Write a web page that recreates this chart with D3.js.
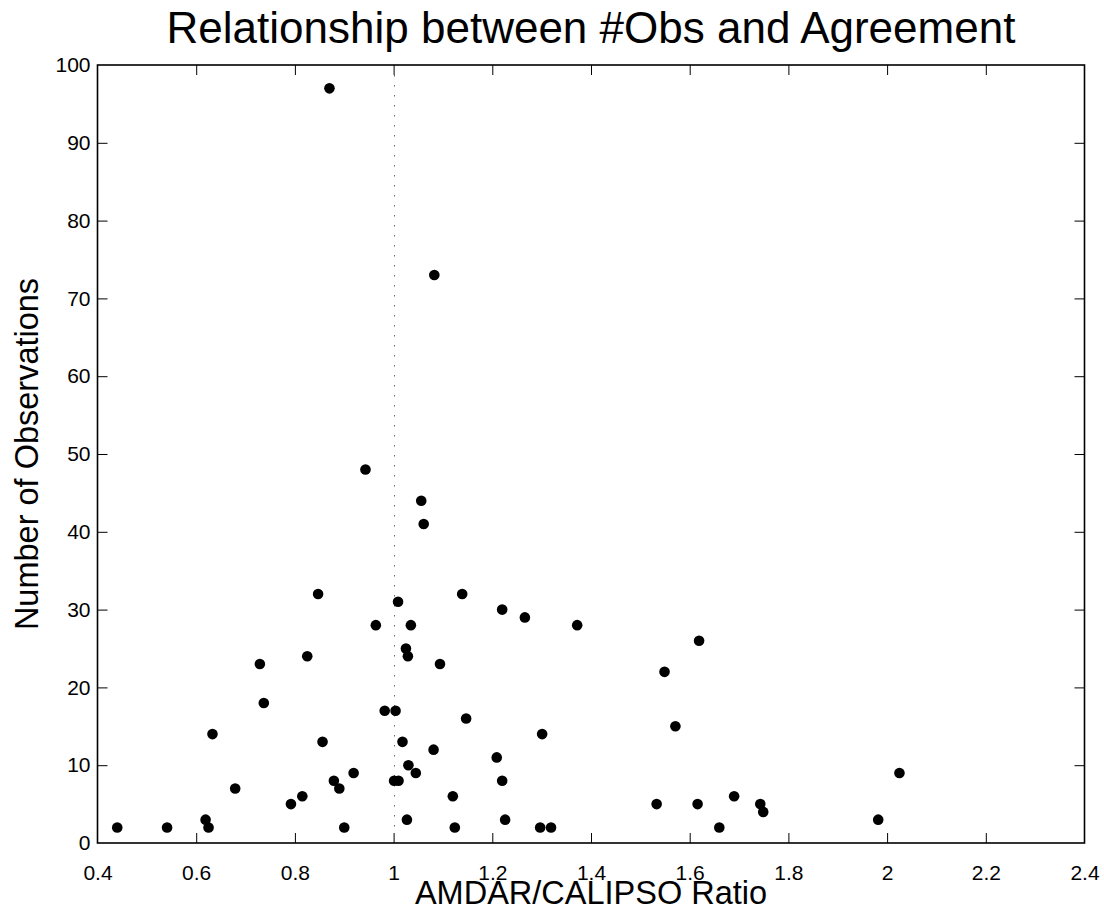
<!DOCTYPE html>
<html>
<head>
<meta charset="utf-8">
<script src="https://cdn.jsdelivr.net/npm/d3@7"></script>
<style>
  html, body { margin: 0; padding: 0; background: #fff; }
  svg { display: block; }
  text { font-family: "Liberation Sans", Arial, Helvetica, sans-serif; fill: #000; }
</style>
</head>
<body>
<svg id="chart" width="1104" height="910"></svg>
<script>
// ---- data ----
const ratio = [
  0.847, 1.009, 1.139, 0.964, 1.035, 1.025, 1.029, 0.825, 0.729, 1.094,
  0.737, 0.982, 1.004, 1.147, 0.633, 0.856, 1.018, 1.081, 1.030, 0.919,
  1.045, 0.879, 1.001, 1.010, 0.679, 0.890, 0.815, 1.120, 0.792, 0.619,
  1.027, 0.440, 0.541, 0.625, 0.900, 1.124, 1.220, 1.266, 1.372, 1.301,
  1.209, 1.220, 1.226, 1.297, 1.319, 1.619, 1.549, 1.571, 2.025, 1.533,
  1.616, 1.690, 1.743, 1.749, 1.660, 1.982, 0.870, 1.0825, 0.943, 1.056,
  1.061
];
const numObs = [
  32, 31, 32, 28, 28, 25, 24, 24, 23, 23,
  18, 17, 17, 16, 14, 13, 13, 12, 10, 9,
  9, 8, 8, 8, 7, 7, 6, 6, 5, 3,
  3, 2, 2, 2, 2, 2, 30, 29, 28, 14,
  11, 8, 3, 2, 2, 26, 22, 15, 9, 5,
  5, 6, 5, 4, 2, 3, 97, 73, 48, 44,
  41
];
const xTicks = [0.4, 0.6, 0.8, 1.0, 1.2, 1.4, 1.6, 1.8, 2.0, 2.2, 2.4];
const yTicks = [0, 10, 20, 30, 40, 50, 60, 70, 80, 90, 100];
const titleText = "Relationship between #Obs and Agreement";
const xLabel = "AMDAR/CALIPSO Ratio";
const yLabel = "Number of Observations";
const refLine = 1;

(function draw() {
  const L = 97.5, R = 1084.5, T = 65, B = 843;
  const svg = d3.select("#chart");
  const x = d3.scaleLinear().domain([0.4, 2.4]).range([L, R]);
  const y = d3.scaleLinear().domain([0, 100]).range([B, T]);
  const fmt = d => String(+d.toFixed(1));

  const gBottom = svg.append("g").attr("transform", `translate(0,${B})`)
    .call(d3.axisBottom(x).tickValues(xTicks).tickFormat(fmt).tickSizeInner(-10).tickSizeOuter(0).tickPadding(22));
  const gTop = svg.append("g").attr("transform", `translate(0,${T})`)
    .call(d3.axisTop(x).tickValues(xTicks).tickFormat("").tickSizeInner(-10).tickSizeOuter(0));
  const gLeft = svg.append("g").attr("transform", `translate(${L},0)`)
    .call(d3.axisLeft(y).tickValues(yTicks).tickSizeInner(-10).tickSizeOuter(0).tickPadding(7));
  const gRight = svg.append("g").attr("transform", `translate(${R},0)`)
    .call(d3.axisRight(y).tickValues(yTicks).tickFormat("").tickSizeInner(-10).tickSizeOuter(0));

  svg.selectAll(".domain").remove();
  svg.selectAll(".tick line").attr("stroke", "#000").attr("stroke-width", 1);
  svg.selectAll(".tick text").attr("font-size", 21)
    .attr("font-family", '"Liberation Sans", Arial, Helvetica, sans-serif').attr("fill", "#000");
  [gBottom, gTop].forEach(g => g.selectAll(".tick line").filter(d => d === 0.4 || d === 2.4).remove());
  [gLeft, gRight].forEach(g => g.selectAll(".tick line").filter(d => d === 0 || d === 100).remove());

  const xr = Math.round(x(refLine)) + 0.5;
  svg.append("line")
    .attr("x1", xr).attr("x2", xr)
    .attr("y1", y(100)).attr("y2", y(0))
    .attr("stroke", "#666").attr("stroke-width", 1)
    .attr("stroke-dasharray", "1.5,8.5");

  svg.append("rect")
    .attr("x", L).attr("y", T).attr("width", R - L).attr("height", B - T)
    .attr("fill", "none").attr("stroke", "#000").attr("stroke-width", 1.6);

  svg.append("g").selectAll("circle")
    .data(ratio.map((r, i) => [r, numObs[i]]))
    .join("circle")
    .attr("cx", d => x(d[0])).attr("cy", d => y(d[1]))
    .attr("r", 5.3).attr("fill", "#000");

  svg.append("text").attr("x", (L + R) / 2).attr("y", 43)
    .attr("text-anchor", "middle").attr("font-size", 44).text(titleText);
  svg.append("text").attr("x", (L + R) / 2).attr("y", 904)
    .attr("text-anchor", "middle").attr("font-size", 32.5).text(xLabel);
  svg.append("text").attr("transform", `translate(37.5,${(T + B) / 2}) rotate(-90)`)
    .attr("text-anchor", "middle").attr("font-size", 32.5).text(yLabel);
})();
</script>
</body>
</html>
